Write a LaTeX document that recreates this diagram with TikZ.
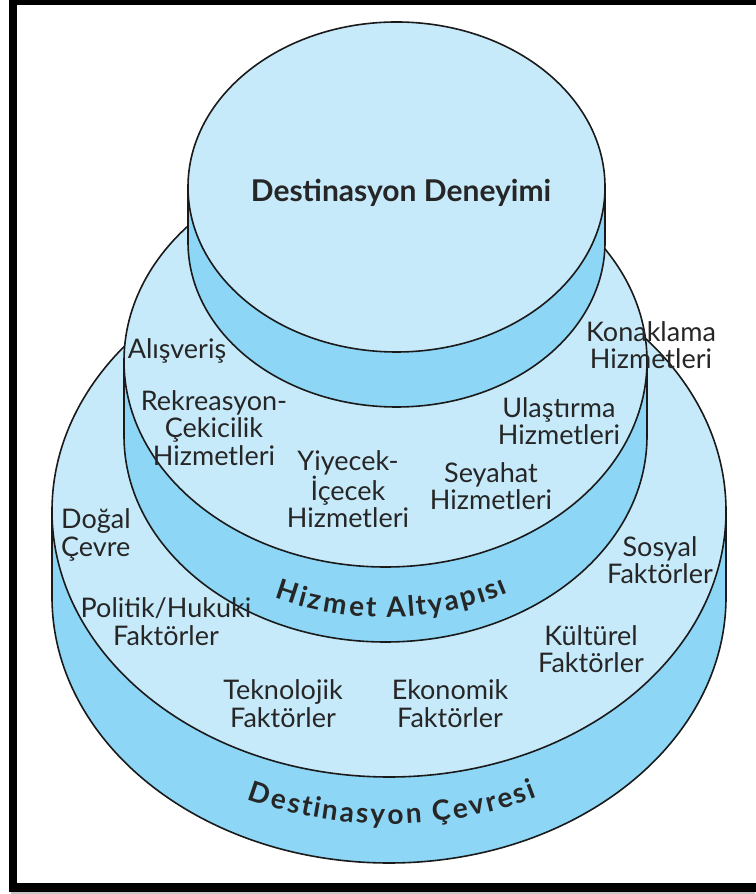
\documentclass[tikz,border=0pt]{standalone}
\usepackage{fontspec}
\setmainfont{Lato}
\usetikzlibrary{decorations.text}
\definecolor{lightb}{HTML}{C7EAFA}
\definecolor{bandb}{HTML}{8DD6F6}
\definecolor{txt}{HTML}{262626}
\definecolor{edge}{HTML}{1A1A1A}
\newcommand\mydisc[5]{%
  \fill[bandb] (#1-#3,#2) -- (#1-#3,#2-#5) arc[start angle=180,end angle=360,x radius=#3,y radius=#4] -- (#1+#3,#2) -- cycle;
  \draw[outl] (#1-#3,#2) -- (#1-#3,#2-#5) arc[start angle=180,end angle=360,x radius=#3,y radius=#4] -- (#1+#3,#2);
  \filldraw[outl,fill=lightb] (#1,#2) ellipse[x radius=#3,y radius=#4];
}
\begin{document}
\begin{tikzpicture}[x=1pt,y=1pt,
  outl/.style={draw=edge,line width=1.6pt},
  lbl/.style={inner sep=0pt,align=center,text=txt,font=\fontsize{27}{27.5}\selectfont},
  curvtext/.style={decorate,decoration={text effects along path,text align=center,
     text effects/.cd, text along path, fit text to path,
     characters={font=\bfseries\fontsize{28}{28}\selectfont,text=txt}}}]
\useasboundingbox (0,0) rectangle (755,894);
\fill[white] (0,0) rectangle (755,894);
% frame
\fill[gray!45] (11,0) rectangle (755,2.5);
\draw[line width=8.5pt,miter limit=10] (800,893.5) -- (13,893.5) -- (13,6.5) -- (800,6.5);
% discs: bottom, middle, top
\mydisc{389}{383}{337}{266}{86}
\mydisc{385.5}{533}{261.5}{206}{75}
\mydisc{396.5}{707}{208.5}{165}{55}
% curved band titles
\path[curvtext,decoration={text={Hizmet Altyapısı}}]
  (385.5,483) ++(245:261.5 and 206) arc[start angle=245,end angle=298,x radius=261.5,y radius=206];
\path[curvtext,decoration={text={Destinasyon Çevresi}}]
  (389,336) ++(245:337 and 266) arc[start angle=245,end angle=296,x radius=337,y radius=266];
% labels
\node[lbl,font=\bfseries\fontsize{30}{30}\selectfont] (dd) at (401,701.5) {Destinasyon Deneyimi};
\node[lbl] (alis) at (177,543) {Alışveriş};
\node[lbl] (kon) at (651,549) {Konaklama\\Hizmetleri};
\node[lbl] (rek) at (214,466) {Rekreasyon-\\Çekicilik\\Hizmetleri};
\node[lbl] (ulas) at (559,473) {Ulaştırma\\Hizmetleri};
\node[lbl] (yiy) at (348,405) {Yiyecek-\\İçecek\\Hizmetleri};
\node[lbl] (sey) at (491,408) {Seyahat\\Hizmetleri};
\node[lbl,align=left,anchor=west] (dog) at (61,359) {Doğal\\Çevre};
\node[lbl] (sos) at (660,334) {Sosyal\\Faktörler};
\node[lbl] (pol) at (166,272.5) {Politik/Hukuki\\Faktörler};
\node[lbl] (kul) at (591,245) {Kültürel\\Faktörler};
\node[lbl] (tek) at (283,190.5) {Teknolojik\\Faktörler};
\node[lbl] (eko) at (450,190.5) {Ekonomik\\Faktörler};
\end{tikzpicture}
\end{document}
